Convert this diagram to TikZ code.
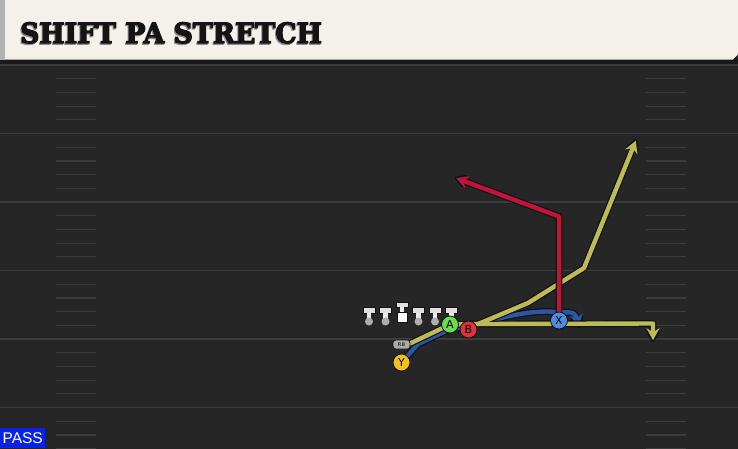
\documentclass[tikz,border=0pt]{standalone}
\usepackage{fontspec}
\setmainfont{DejaVu Serif}
\newfontfamily\titlefont[BoldFeatures={FakeBold=4}]{DejaVu Serif}
\newfontfamily\passfont{Liberation Sans}
\newfontfamily\lblfont{DejaVu Sans}
\usetikzlibrary{arrows.meta}
\definecolor{fieldbg}{HTML}{262626}
\definecolor{yardline}{HTML}{3C3C3C}
\definecolor{cream}{HTML}{F4F1EA}
\definecolor{routeyel}{HTML}{BDBA58}
\definecolor{routered}{HTML}{C0143C}
\definecolor{routeblue}{HTML}{2C56A8}
\definecolor{outl}{HTML}{111111}
\definecolor{pgreen}{HTML}{6EDC48}
\definecolor{pred}{HTML}{E2303E}
\definecolor{pblue}{HTML}{4A8EE0}
\definecolor{pgold}{HTML}{F0C21E}
\definecolor{passblue}{HTML}{0A22E6}
\tikzset{
  yard/.style={draw=yardline, line width=1.6pt},
  hashmark/.style={draw=yardline, line width=1.2pt},
  outroute/.style={draw=outl, line width=6.8pt, line join=round, line cap=round},
  colroute/.style={line width=4.4pt, line join=round, line cap=round},
  outtip/.style={-{Stealth[length=15pt,width=17pt,inset=5pt,round]}},
  coltip/.style={-{Stealth[length=12pt,width=13pt,inset=4pt]}, shorten >=1.8pt},
  player/.style={circle, draw=outl, line width=0.8pt, minimum size=17pt, inner sep=0pt, font=\lblfont\fontsize{11}{11}\selectfont, text=black},
  rbbox/.style={rounded corners=3pt, draw=outl, line width=0.6pt, fill=black!33, minimum width=17pt, minimum height=9pt, inner sep=0pt, font=\lblfont\bfseries\fontsize{5}{5}\selectfont, text=black!75},
  lineman/.pic={
    \fill[outl] (-6.5,307) rectangle (6.5,313.5);
    \fill[black!12] (-5.5,308) rectangle (5.5,312.5);
    \fill[black!8] (-2.2,312.5) rectangle (2.2,321);
    \fill[black!32] (0,321.5) circle (4);
  },
  centerman/.pic={
    \fill[outl] (-6.5,301.5) rectangle (6.5,307.5);
    \fill[black!12] (-5.5,302.5) rectangle (5.5,306.5);
    \fill[black!8] (-2.2,306.5) rectangle (2.2,313);
    \fill[outl] (-5.5,312) rectangle (5.5,323);
    \fill[white] (-4.5,313) rectangle (4.5,322);
  }
}
\begin{document}
\begin{tikzpicture}[x=1pt,y=-1pt]
\useasboundingbox (0,0) rectangle (738,448);
% field
\fill[fieldbg] (-3,-3) rectangle (741,451);
% yard lines
\foreach \n in {0,...,5} {
  \draw[yard] (-3,65+68.5*\n) -- (741,65+68.5*\n);
  \foreach \k in {1,...,4} {
    \draw[hashmark] (56,65+68.5*\n+13.7*\k) -- (96,65+68.5*\n+13.7*\k);
    \draw[hashmark] (646,65+68.5*\n+13.7*\k) -- (686,65+68.5*\n+13.7*\k);
  }
}
% header
\fill[black!90] (-3,58) rectangle (741,64);
\fill[cream] (-3,-3) -- (741,-3) -- (741,51) -- (733,59.5) -- (-3,59.5) -- cycle;
\fill[black!30] (-3,-3) rectangle (4.5,59.5);
\node[anchor=base west, inner sep=0pt, text=black!45, font=\titlefont\bfseries\fontsize{28}{28}\selectfont, xscale=0.955] (titleshadow) at (19,44.3) {SHIFT PA STRETCH};
\node[anchor=base west, inner sep=0pt, text=black!92, font=\titlefont\bfseries\fontsize{28}{28}\selectfont, xscale=0.955] (title) at (20,43) {SHIFT PA STRETCH};
% PASS label
\node[anchor=south west, fill=passblue, text=white, inner sep=0pt, minimum width=45pt, minimum height=20pt, font=\passfont\fontsize{15.5}{15.5}\selectfont] (pass) at (0,448) {PASS};
% coordinates
\coordinate (Ypos) at (401.5,362.5);
\coordinate (RBpos) at (401.5,344.5);
\coordinate (Apos) at (450,324.5);
\coordinate (Bpos) at (468.5,329.5);
\coordinate (Xpos) at (559,320.5);
\coordinate (b1) at (418,344);
\coordinate (b2) at (448,330);
\coordinate (b3) at (482,323);
\coordinate (b4) at (548,311.5);
\coordinate (b5) at (571,312.5);
\coordinate (bend) at (579,328);
\coordinate (y0) at (410,343.5);
\coordinate (y1) at (478,324);
\coordinate (y2) at (653,323.5);
\coordinate (yend) at (653,342);
\coordinate (s1) at (528,303);
\coordinate (s2) at (584,268);
\coordinate (send) at (636.5,139);
\coordinate (r1) at (559,216.5);
\coordinate (rend) at (454.5,177.5);
% blue route
\draw[outroute, outtip] (Ypos) -- (b1) -- (b2) -- (b3) .. controls (510,315) and (530,311.5) .. (b4) -- (b5) .. controls (575,313) and (577,318) .. (bend);
\draw[colroute, routeblue, coltip] (Ypos) -- (b1) -- (b2) -- (b3) .. controls (510,315) and (530,311.5) .. (b4) -- (b5) .. controls (575,313) and (577,318) .. (bend);
% yellow routes
\draw[outroute, outtip] (y0) -- (Apos) -- (y1) -- (y2) -- (yend);
\draw[outroute, outtip] (y1) -- (s1) -- (s2) -- (send);
\draw[colroute, routeyel, coltip] (y0) -- (Apos) -- (y1) -- (y2) -- (yend);
\draw[colroute, routeyel, coltip] (y1) -- (s1) -- (s2) -- (send);
% red route
\draw[outroute, outtip] (Xpos) -- (r1) -- (rend);
\draw[colroute, routered, coltip] (Xpos) -- (r1) -- (rend);
% offensive line
\pic at (369,0) {lineman};
\pic at (385.5,0) {lineman};
\pic at (402,0) {centerman};
\pic at (418.5,0) {lineman};
\pic at (435,0) {lineman};
\pic at (451.5,0) {lineman};
% players
\node[rbbox] (RB) at (RBpos) {RB};
\node[player, fill=pgold] (Y) at (Ypos) {Y};
\node[player, fill=pgreen] (A) at (Apos) {A};
\node[player, fill=pred] (B) at (Bpos) {B};
\node[player, fill=pblue] (X) at (Xpos) {X};
\end{tikzpicture}
\end{document}
